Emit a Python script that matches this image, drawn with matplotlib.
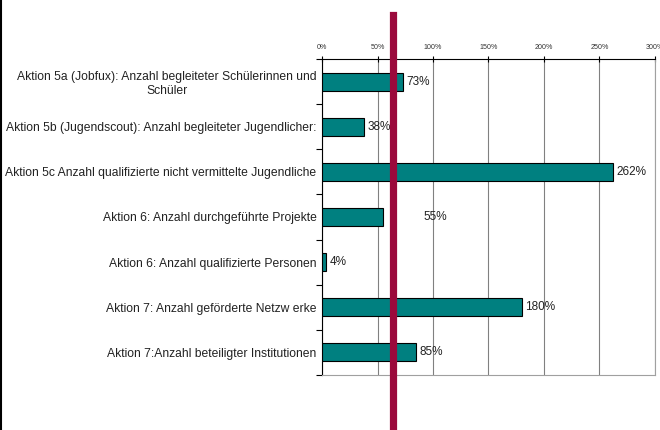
import matplotlib
matplotlib.use("Agg")
import matplotlib.pyplot as plt
from matplotlib.lines import Line2D

categories = [
    "Aktion 5a (Jobfux): Anzahl begleiteter Schülerinnen und\nSchüler",
    "Aktion 5b (Jugendscout): Anzahl begleiteter Jugendlicher:",
    "Aktion 5c Anzahl qualifizierte nicht vermittelte Jugendliche",
    "Aktion 6: Anzahl durchgeführte Projekte",
    "Aktion 6: Anzahl qualifizierte Personen",
    "Aktion 7: Anzahl geförderte Netzw erke",
    "Aktion 7:Anzahl beteiligter Institutionen",
]
values = [73, 38, 262, 55, 4, 180, 85]
value_labels = ["73%", "38%", "262%", "55%", "4%", "180%", "85%"]
label_shift = [0, 0, 0, 33, 0, 0, 0]  # extra x-shift (in % units) of the value label
xticks = [0, 50, 100, 150, 200, 250, 300]
xtick_labels = ["0%", "50%", "100%", "150%", "200%", "250%", "300%"]
target = 64

plt.rcParams['font.family'] = ['Liberation Sans', 'DejaVu Sans']

fig = plt.figure(figsize=(6.6, 4.3), dpi=100)
ax = fig.add_axes([0.4879, 0.1279, 0.5045, 0.7349])

n = len(categories)
ypos = list(range(n))
ax.barh(ypos, values, height=0.4, color="#008080", edgecolor="black", linewidth=0.8, zorder=3)
ax.set_ylim(n - 0.5, -0.5)
ax.set_xlim(0, 300)

for y, v, lab, sh in zip(ypos, values, value_labels, label_shift):
    ax.text(v + 3 + sh, y, lab, va="center", ha="left", fontsize=8.5, color="#222222", zorder=4)

ax.set_xticks(xticks)
ax.set_xticklabels(xtick_labels, fontsize=5.1, color="#333333")
ax.xaxis.tick_top()
ax.tick_params(axis="x", direction="inout", length=5, width=0.8, pad=3.5)
ax.grid(axis="x", color="#808080", linewidth=0.8, zorder=0)

ax.set_yticks(ypos)
ax.set_yticklabels(categories, fontsize=8.7, multialignment="center", color="#222222")
ax.set_yticks([i + 0.5 for i in range(-1, n)], minor=True)
ax.tick_params(axis="y", which="major", length=0, pad=4)
ax.tick_params(axis="y", which="minor", direction="out", length=4, width=0.8)

ax.spines["top"].set_color("black")
ax.spines["top"].set_linewidth(0.8)
ax.spines["left"].set_color("black")
ax.spines["left"].set_linewidth(0.8)
ax.spines["right"].set_color("#a0a0a0")
ax.spines["right"].set_linewidth(0.8)
ax.spines["bottom"].set_color("#a0a0a0")
ax.spines["bottom"].set_linewidth(0.8)

ax.axvline(target, ymin=-0.175, ymax=1.14, color="#9b0a3c", linewidth=5.2, clip_on=False, zorder=5)

fig.add_artist(Line2D([0.0015, 0.0015], [0, 1], transform=fig.transFigure, color="black", linewidth=1.5))

fig.savefig("out.png", dpi=100)
